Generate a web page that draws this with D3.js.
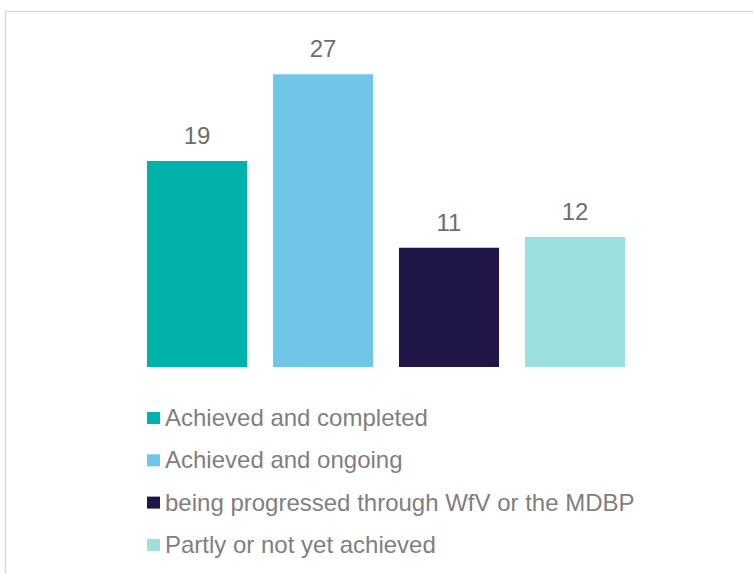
<!DOCTYPE html>
<html>
<head>
<meta charset="utf-8">
<script src="https://cdn.jsdelivr.net/npm/d3@7"></script>
<style>
  body { margin: 0; background: #fff; }
  svg { display: block; font-family: "Liberation Sans", Arial, sans-serif; }
</style>
</head>
<body>
<div id="chart"></div>
<script>
let categories = ["Achieved and completed", "Achieved and ongoing",
                  "being progressed through WfV or the MDBP", "Partly or not yet achieved"];
let values = [19, 27, 11, 12];
let colors = ["#00B2A9", "#71C5E8", "#201547", "#9BE0DC"];

let w = 753, h = 574;

let svg = d3.select("#chart")
  .append("svg")
    .attr("width", w)
    .attr("height", h);

// outer chart frame (runs off the right and bottom edge)
svg.append("rect")
    .attr("x", 5.5)
    .attr("y", 11.5)
    .attr("width", 800)
    .attr("height", 600)
    .attr("fill", "none")
    .attr("stroke", "#d9d9d9")
    .attr("stroke-width", 1.5);

let x = d3.scaleBand()
    .domain(categories)
    .range([134, 638])
    .paddingInner(0.206)
    .paddingOuter(0.103);

let y = d3.scaleLinear()
    .domain([0, 19])
    .range([367, 161]);

svg.selectAll("rect.bar")
    .data(values)
  .enter().append("rect")
    .attr("class", "bar")
    .attr("x", function(d, i) { return x(categories[i]); })
    .attr("y", function(d) { return y(d); })
    .attr("width", x.bandwidth())
    .attr("height", function(d) { return y(0) - y(d); })
    .attr("fill", function(d, i) { return colors[i]; });

svg.selectAll("text.val")
    .data(values)
  .enter().append("text")
    .attr("class", "val")
    .attr("x", function(d, i) { return x(categories[i]) + x.bandwidth()/2; })
    .attr("y", function(d) { return y(d) - 17; })
    .attr("text-anchor", "middle")
    .attr("font-size", 24)
    .attr("fill", "#6e6e6e")
    .text(function(d) { return d; });

let legend = svg.selectAll("g.legend")
    .data(categories)
  .enter().append("g")
    .attr("class", "legend")
    .attr("transform", function(d, i) { return "translate(147," + (426 + i*42.3) + ")"; });

legend.append("rect")
    .attr("x", 0)
    .attr("y", -14)
    .attr("width", 13)
    .attr("height", 12)
    .attr("fill", function(d, i) { return colors[i]; });

legend.append("text")
    .attr("x", 18)
    .attr("y", 0)
    .attr("font-size", 24)
    .attr("fill", "#7f7f7f")
    .text(function(d) { return d; });
</script>
</body>
</html>
